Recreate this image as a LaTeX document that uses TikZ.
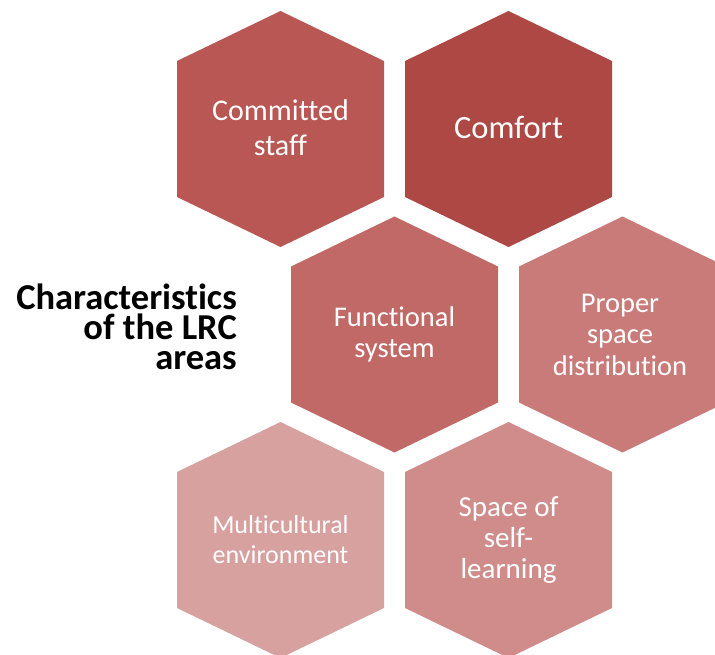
\documentclass[tikz,border=0pt]{standalone}
\usepackage{fontspec}
\setmainfont[Ligatures=NoCommon]{Carlito}
\usetikzlibrary{positioning}

% cell fills
\definecolor{cellA}{HTML}{B95754}
\definecolor{cellB}{HTML}{AD4845}
\definecolor{cellC}{HTML}{C16966}
\definecolor{cellD}{HTML}{C87B79}
\definecolor{cellE}{HTML}{D7A1A0}
\definecolor{cellF}{HTML}{CF8C8B}

\tikzset{
  celltext/.style={text=white, align=center, inner sep=0pt},
  titletext/.style={text=black, align=right, inner sep=0pt, font=\bfseries\fontsize{36.5}{30}\selectfont}
}

% hexagon around a centre: half width 103.5, half height 118, side 136
\newcommand{\hexcell}[3]{%
  \fill[#3] (#1,#2) ++(0,-118) -- ++(103.5,50) -- ++(0,136) -- ++(-103.5,50)
    -- ++(-103.5,-50) -- ++(0,-136) -- cycle;}

\begin{document}
\begin{tikzpicture}[x=1pt,y=-1pt]

\clip (0,0) rectangle (715,655);
\fill[white] (0,0) rectangle (715,655);

% top row
\hexcell{280.5}{129}{cellA}
\node[celltext, font=\fontsize{30}{35}\selectfont] (staff) at (280.5,128) {Committed\\staff};
\hexcell{508.5}{129}{cellB}
\node[celltext, font=\fontsize{32.5}{38}\selectfont] (comfort) at (508.5,127) {Comfort};

% middle row
\hexcell{394.5}{334.5}{cellC}
\node[celltext, font=\fontsize{28.5}{31}\selectfont] (system) at (394.5,334.5) {Functional\\system};
\hexcell{622.5}{334.5}{cellD}
\node[celltext, font=\fontsize{28.5}{31.5}\selectfont] (space) at (620,334.5) {Proper\\space\\distribution};

% bottom row
\hexcell{280.5}{540}{cellE}
\node[celltext, font=\fontsize{26}{30}\selectfont] (culture) at (280.5,540) {Multicultural\\environment};
\hexcell{508.5}{540}{cellF}
\node[celltext, font=\fontsize{29}{31}\selectfont] (learning) at (508.5,540) {Space of\\self-\\learning};

% heading
\node[titletext, anchor=east] (title) at (237,327) {Characteristics\\of the LRC\\areas};

\end{tikzpicture}
\end{document}
